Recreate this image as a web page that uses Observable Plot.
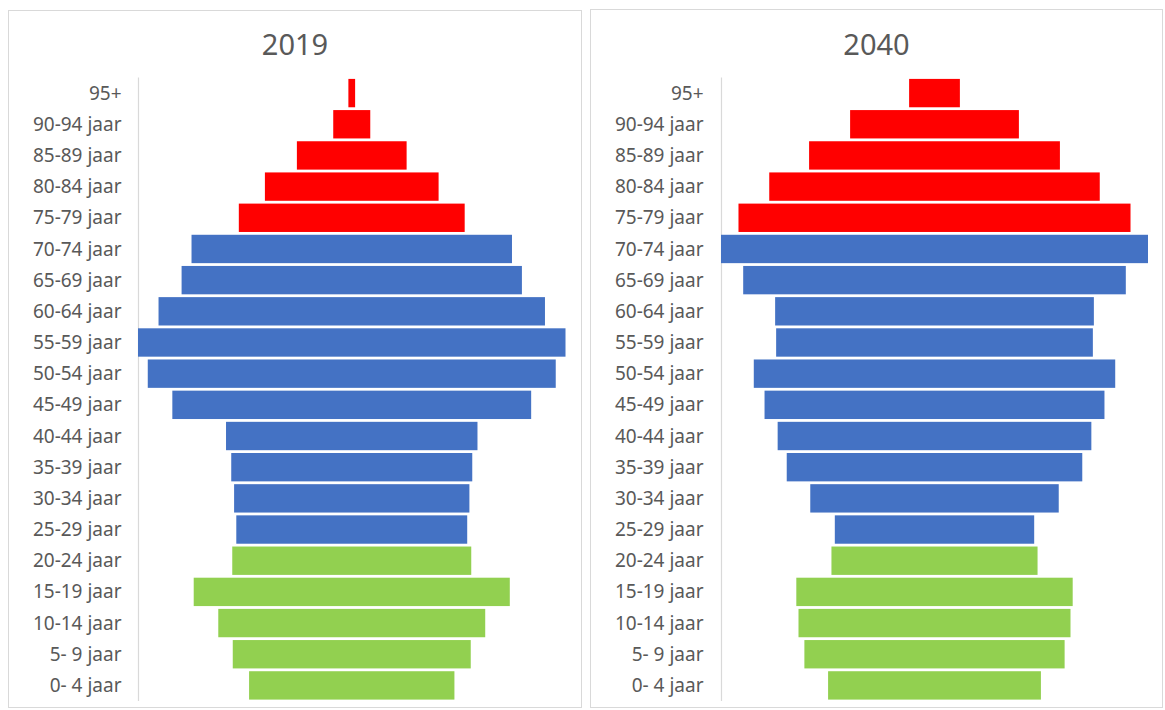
<!DOCTYPE html>
<html><head><meta charset="utf-8">
<script src="https://cdn.jsdelivr.net/npm/d3@7"></script>
<script src="https://cdn.jsdelivr.net/npm/@observablehq/plot@0.6"></script>
<style>
html,body{margin:0;padding:0;background:#fff}
body{width:1165px;height:710px;position:relative;overflow:hidden;font-family:"Noto Sans",sans-serif}
.panel{position:absolute;border:1px solid #d9d9d9;box-sizing:border-box}
.title{position:absolute;text-align:center;font-size:29px;line-height:29px;color:#595959}
.chart{position:absolute}
.chart svg{display:block}
</style></head><body>
<script>
// Age groups, top to bottom
const ageGroups = ["95+","90-94 jaar","85-89 jaar","80-84 jaar","75-79 jaar",
  "70-74 jaar","65-69 jaar","60-64 jaar","55-59 jaar","50-54 jaar","45-49 jaar",
  "40-44 jaar","35-39 jaar","30-34 jaar","25-29 jaar",
  "20-24 jaar","15-19 jaar","10-14 jaar","5- 9 jaar","0- 4 jaar"];
const groupNames = ["75+", "25-74", "0-24"];
const ageGroupOf = ["75+","75+","75+","75+","75+",
  "25-74","25-74","25-74","25-74","25-74","25-74","25-74","25-74","25-74","25-74",
  "0-24","0-24","0-24","0-24","0-24"];
const years = ["2019", "2040"];
// estimated population (x 1000) per age group
const values2019 = [20,110,326,516,671,952,1011,1148,1270,1212,1066,747,716,699,686,710,939,793,707,610];
const values2040 = [151,502,746,983,1166,1270,1138,948,942,1075,1011,933,879,739,593,613,822,809,774,633];

const layout = [
  {left: 8, width: 574, top: 10, ml: 130, mr: 16.5, tp: 17},
  {left: 590, width: 573, top: 9, ml: 131, mr: 15, tp: 18}
];

function pyramid(values, o) {
  const rows = ageGroups.map((a, i) => ({age: a, group: ageGroupOf[i], value: values[i]}));
  const max = d3.max(values);
  return Plot.plot({
    width: o.width, height: 638,
    marginLeft: o.ml, marginRight: o.mr, marginTop: 7.5, marginBottom: 7,
    style: {fontFamily: "'Noto Sans', sans-serif", fontSize: "19px", color: "#595959", background: "transparent", overflow: "visible"},
    x: {domain: [-max / 2, max / 2], axis: null},
    y: {domain: ageGroups, paddingInner: 0.09, paddingOuter: 0.045, round: false, axis: null},
    color: {domain: groupNames, range: ["#ff0000", "#4472c4", "#92d050"]},
    marks: [
      Plot.ruleX([-max / 2], {stroke: "#d9d9d9", strokeWidth: 1.2}),
      Plot.barX(rows, {x1: d => -d.value / 2, x2: d => d.value / 2, y: "age", fill: "group"}),
      Plot.axisY({tickSize: 0, tickPadding: o.tp, fontSize: 19, fill: "#595959", label: null})
    ]
  });
}

[values2019, values2040].forEach((vals, k) => {
  const o = layout[k];
  const panel = document.createElement("div");
  panel.className = "panel";
  Object.assign(panel.style, {left: o.left + "px", top: o.top + "px", width: o.width + "px", height: (708 - o.top) + "px"});
  document.body.appendChild(panel);

  const title = document.createElement("div");
  title.className = "title";
  title.textContent = years[k];
  Object.assign(title.style, {left: o.left + "px", width: o.width + "px", top: "29px"});
  document.body.appendChild(title);

  const holder = document.createElement("div");
  holder.className = "chart";
  Object.assign(holder.style, {left: o.left + "px", top: "70px"});
  holder.appendChild(pyramid(vals, o));
  document.body.appendChild(holder);
});
</script>
</body></html>
